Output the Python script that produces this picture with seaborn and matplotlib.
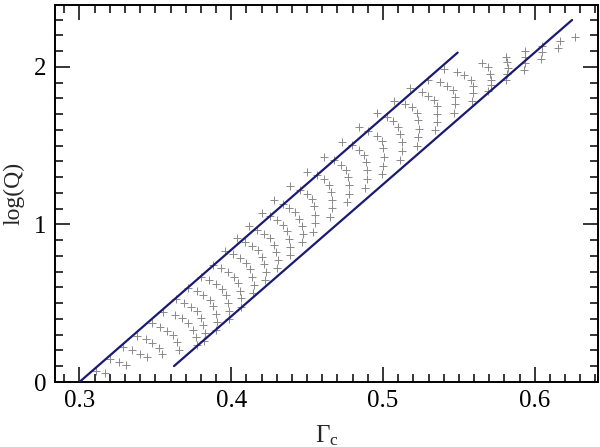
import matplotlib
matplotlib.use("Agg")
import matplotlib.pyplot as plt
import numpy as np
import pandas as pd
import seaborn as sns
from matplotlib.ticker import MultipleLocator

# grey "+" points, one list per arc (Gamma_c, log Q)
gamma_arcs = [
    [0.3112, 0.3168],
    [0.3201, 0.3262, 0.3306],
    [0.3289, 0.3344, 0.3399, 0.3447],
    [0.3382, 0.3438, 0.3481, 0.3521, 0.3547],
    [0.3476, 0.3530, 0.3575, 0.3618, 0.3645, 0.3658],
    [0.3552, 0.3629, 0.3673, 0.3717, 0.3746, 0.3768, 0.3776],
    [0.3636, 0.3692, 0.3735, 0.3774, 0.3801, 0.3817, 0.3824, 0.3821],
    [0.3718, 0.3775, 0.3816, 0.3857, 0.3882, 0.3900, 0.3905, 0.3902],
    [0.3799, 0.3854, 0.3899, 0.3936, 0.3965, 0.3980, 0.3988, 0.3983],
    [0.3878, 0.3935, 0.3977, 0.4017, 0.4043, 0.4060, 0.4066, 0.4062],
    [0.3959, 0.4015, 0.4058, 0.4097, 0.4125, 0.4140, 0.4148, 0.4144],
    [0.4038, 0.4094, 0.4137, 0.4176, 0.4203, 0.4219, 0.4226, 0.4223],
    [0.4117, 0.4173, 0.4216, 0.4255, 0.4282, 0.4298, 0.4305, 0.4302],
    [0.4201, 0.4257, 0.4300, 0.4339, 0.4366, 0.4382, 0.4389, 0.4386],
    [0.4284, 0.4340, 0.4383, 0.4422, 0.4449, 0.4465, 0.4472, 0.4469],
    [0.4387, 0.4453, 0.4499, 0.4532, 0.4545, 0.4552, 0.4552, 0.4542],
    [0.4497, 0.4563, 0.4609, 0.4642, 0.4655, 0.4662, 0.4662, 0.4652],
    [0.4611, 0.4677, 0.4723, 0.4756, 0.4769, 0.4776, 0.4776, 0.4766],
    [0.4728, 0.4794, 0.4840, 0.4873, 0.4886, 0.4893, 0.4893, 0.4883],
    [0.4844, 0.4903, 0.4959, 0.4992, 0.5002, 0.5007, 0.5002, 0.4992],
    [0.4959, 0.5024, 0.5068, 0.5101, 0.5112, 0.5123, 0.5123, 0.5112],
    [0.5075, 0.5145, 0.5189, 0.5222, 0.5233, 0.5239, 0.5233, 0.5222],
    [0.5178, 0.5255, 0.5299, 0.5336, 0.5354, 0.5354, 0.5354, 0.5343],
    [0.5295, 0.5376, 0.5420, 0.5461, 0.5475, 0.5477, 0.5465],
    [0.5404, 0.5486, 0.5536, 0.5578, 0.5591, 0.5595, 0.5585],
    [0.5650, 0.5695, 0.5705, 0.5710, 0.5709, 0.5695],
    [0.5813, 0.5817, 0.5824, 0.5819, 0.5811],
    [0.5938, 0.5938, 0.5939, 0.5931],
    [0.6048, 0.6048, 0.6039],
    [0.6166, 0.6155],
    [0.6265],
]
logq_arcs = [
    [0.072, 0.055],
    [0.144, 0.128, 0.108],
    [0.223, 0.203, 0.177, 0.156],
    [0.294, 0.273, 0.248, 0.218, 0.177],
    [0.372, 0.350, 0.325, 0.297, 0.255, 0.203],
    [0.445, 0.424, 0.403, 0.372, 0.329, 0.283, 0.234],
    [0.525, 0.504, 0.479, 0.449, 0.408, 0.360, 0.310, 0.259],
    [0.598, 0.578, 0.551, 0.522, 0.480, 0.433, 0.383, 0.331],
    [0.666, 0.646, 0.620, 0.590, 0.549, 0.501, 0.451, 0.400],
    [0.745, 0.724, 0.699, 0.668, 0.628, 0.580, 0.530, 0.479],
    [0.831, 0.810, 0.785, 0.755, 0.714, 0.666, 0.616, 0.565],
    [0.911, 0.890, 0.865, 0.835, 0.794, 0.746, 0.696, 0.645],
    [0.987, 0.966, 0.941, 0.911, 0.870, 0.822, 0.772, 0.721],
    [1.072, 1.051, 1.026, 0.996, 0.955, 0.907, 0.857, 0.806],
    [1.152, 1.131, 1.106, 1.076, 1.035, 0.987, 0.937, 0.886],
    [1.242, 1.221, 1.195, 1.160, 1.115, 1.062, 1.008, 0.954],
    [1.335, 1.314, 1.288, 1.253, 1.208, 1.155, 1.101, 1.047],
    [1.427, 1.406, 1.380, 1.345, 1.300, 1.247, 1.193, 1.139],
    [1.522, 1.501, 1.475, 1.440, 1.395, 1.342, 1.288, 1.234],
    [1.616, 1.595, 1.563, 1.527, 1.485, 1.426, 1.373, 1.321],
    [1.704, 1.684, 1.658, 1.616, 1.574, 1.521, 1.468, 1.409],
    [1.785, 1.764, 1.742, 1.707, 1.663, 1.606, 1.553, 1.500],
    [1.863, 1.837, 1.816, 1.789, 1.753, 1.701, 1.647, 1.599],
    [1.916, 1.902, 1.880, 1.851, 1.810, 1.763, 1.709],
    [1.985, 1.970, 1.949, 1.918, 1.875, 1.831, 1.785],
    [2.022, 1.996, 1.956, 1.918, 1.883, 1.848],
    [2.063, 2.028, 1.991, 1.956, 1.916],
    [2.099, 2.063, 2.022, 1.978],
    [2.130, 2.092, 2.049],
    [2.161, 2.118],
    [2.190],
]

# the two bounding lines (end points)
upper_gamma = [0.300, 0.5492]
upper_logq = [0.000, 2.090]
lower_gamma = [0.3623, 0.6246]
lower_logq = [0.101, 2.297]

x_ticks = [0.3, 0.4, 0.5, 0.6]
y_ticks = [0, 1, 2]

points = pd.DataFrame({
    "gamma": [g for arc in gamma_arcs for g in arc],
    "logq": [q for arc in logq_arcs for q in arc],
})

sns.set_style("ticks")
plt.rcParams["font.family"] = ["Liberation Serif", "DejaVu Serif"]
plt.rcParams["mathtext.fontset"] = "custom"
plt.rcParams["mathtext.rm"] = "Liberation Serif"
plt.rcParams["mathtext.it"] = "Liberation Serif:italic"

fig = plt.figure(figsize=(6.0, 4.47), dpi=100)
ax = fig.add_axes([0.0917, 0.1454, 0.905, 0.8434])

sns.scatterplot(data=points, x="gamma", y="logq", marker="+", color="#8a8a8a",
                s=28, linewidth=0.7, ax=ax, zorder=2)
line_color = "#1a1a72"
sns.lineplot(x=upper_gamma, y=upper_logq, color=line_color, lw=1.6, ax=ax,
             estimator=None, sort=False, zorder=3)
sns.lineplot(x=lower_gamma, y=lower_logq, color=line_color, lw=1.6, ax=ax,
             estimator=None, sort=False, zorder=3)

ax.set_xlim(0.2839, 0.6417)
ax.set_ylim(0, 2.392)
ax.set_xticks(x_ticks)
ax.set_yticks(y_ticks)
ax.set_xticklabels([f"{t:.1f}" for t in x_ticks])
ax.xaxis.set_minor_locator(MultipleLocator(0.01))
ax.yaxis.set_minor_locator(MultipleLocator(0.1))
ax.tick_params(which="both", direction="in", top=True, right=True,
               width=1.1, color="black", labelsize=18, labelcolor="black")
ax.tick_params(which="major", length=11, pad=6)
ax.tick_params(which="minor", length=6)
for sp in ax.spines.values():
    sp.set_linewidth(1.4)
    sp.set_color("black")

ax.set_xlabel(r"$\Gamma_{\rm c}$", fontsize=18, labelpad=8)
ax.set_ylabel("log(Q)", fontsize=17)
ax.yaxis.set_label_coords(-0.056, 0.5)

fig.savefig("out.png", dpi=100)
